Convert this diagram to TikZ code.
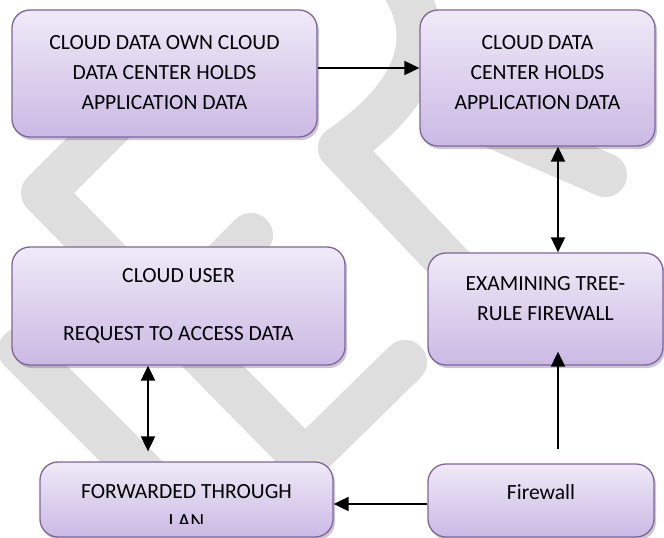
\documentclass[tikz,border=0pt]{standalone}
\usepackage{fontspec}
\setmainfont{Carlito}
\usetikzlibrary{arrows.meta,shadows,positioning}

\definecolor{boxedge}{HTML}{8064A2}
\definecolor{boxtop}{HTML}{EFEAF7}
\definecolor{boxbot}{HTML}{CBB9E4}
\definecolor{wmgray}{HTML}{DEDEDE}

\tikzset{
  stage/.style={rectangle, rounded corners=18pt, draw=boxedge, line width=1.3pt,
    top color=boxtop, bottom color=boxbot,
    drop shadow={shadow xshift=2pt, shadow yshift=-3pt, opacity=.3, fill=black!70}},
  stagetext/.style={font=\fontsize{21.6}{30}\selectfont, align=center, inner sep=0pt},
  link/.style={line width=2pt},
  wmband/.style={draw=wmgray, line width=44pt, line cap=round, line join=round},
  >={Triangle[length=15pt,width=14pt]}
}

\begin{document}
\begin{tikzpicture}[x=1pt,y=-1pt]
\useasboundingbox (0,0) rectangle (664,538);

% faint bands in the background
\draw[wmband] (112,124) -- (43,193) -- (305,460) -- (405,362);
\draw[wmband] (20,350) -- (160,490);
\draw[wmband] (251,235) -- (200,286);
\draw[wmband] (395,-25) .. controls (445,40) and (410,100) .. (340,148) -- (470,285);
\draw[wmband] (490,125) -- (605,175);

% the six stages
\node[stage, at={(164.5,73.5)}, minimum width=305pt, minimum height=127pt] (ownbox) {};
\node[stage, at={(537.5,78)}, minimum width=235pt, minimum height=136pt] (centerbox) {};
\node[stage, at={(545.5,309)}, minimum width=235pt, minimum height=112pt] (treebox) {};
\node[stage, at={(178.5,306)}, minimum width=333pt, minimum height=118pt] (userbox) {};
\node[stage, at={(186.5,499.5)}, minimum width=293pt, minimum height=75pt] (lanbox) {};
\node[stage, at={(541,500.5)}, minimum width=226pt, minimum height=73pt] (fwbox) {};

\node[stagetext, at={(164.5,73)}] (owntext) {CLOUD DATA OWN CLOUD\\DATA CENTER HOLDS\\APPLICATION DATA};
\node[stagetext, at={(537.5,73)}] (centertext) {CLOUD DATA\\CENTER HOLDS\\APPLICATION DATA};
\node[stagetext, at={(545.5,299)}] (treetext) {EXAMINING TREE-\\RULE FIREWALL};
\node[stagetext, at={(178.5,306)}] (usertext) {CLOUD USER\\[28pt]REQUEST TO ACCESS DATA};
\node[stagetext, at={(541,492)}] (fwtext) {Firewall};
% second line runs past the box and gets cut
\begin{scope}
  \clip (40,462) rectangle (333,523);
  \node[stagetext, at={(186.5,506)}] (lantext) {FORWARDED THROUGH\\LAN};
\end{scope}

% connectors
\draw[link,->] ([yshift=5.5pt]ownbox.east) -- ([yshift=5.5pt]ownbox.east -| centerbox.west);
\draw[link,<->] ([xshift=12.5pt]treebox.north) -- ([xshift=12.5pt]treebox.north |- centerbox.south);
\draw[link,->] ([xshift=17pt,yshift=14pt]fwbox.north) -- ([xshift=17pt,yshift=14pt]fwbox.north |- treebox.south);
\draw[link,<->] ([xshift=-30.5pt]userbox.south) -- ([xshift=-30.5pt,yshift=10pt]userbox.south |- lanbox.north);
\draw[link,->] ([yshift=-3.5pt]fwbox.west) -- ([yshift=-3.5pt]fwbox.west -| lanbox.east);

\end{tikzpicture}
\end{document}
